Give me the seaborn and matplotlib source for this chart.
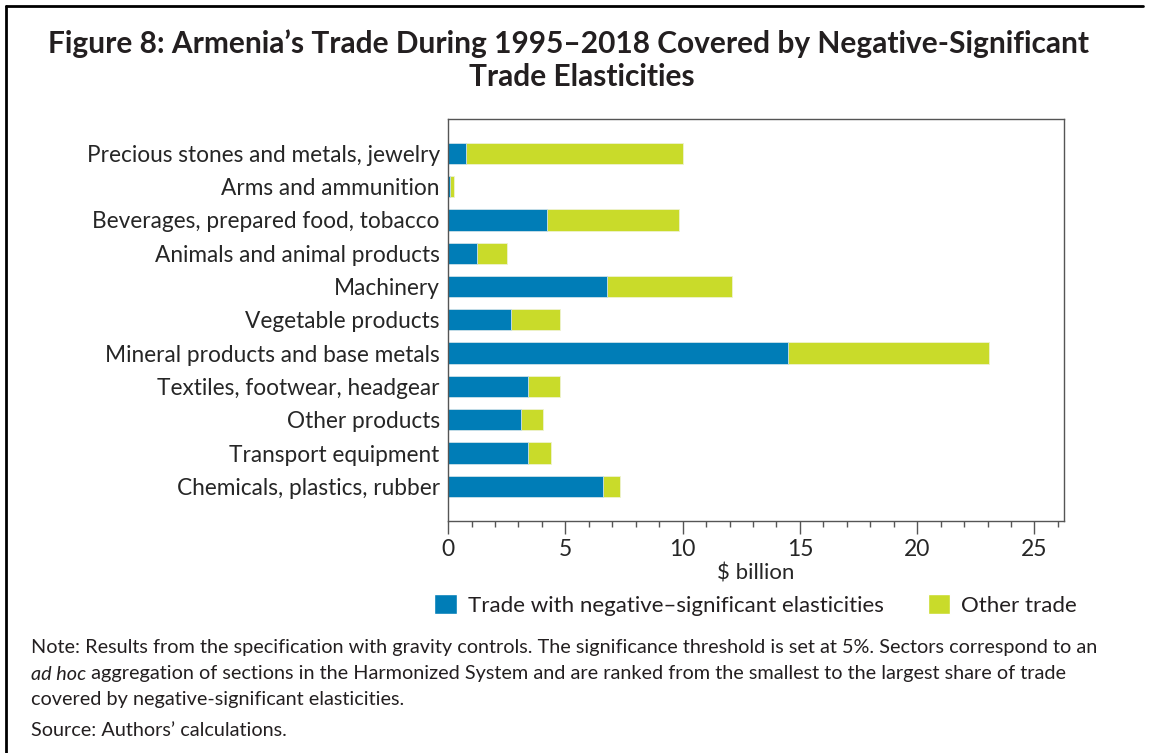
import numpy as np
import pandas as pd
import matplotlib
matplotlib.use("Agg")
import matplotlib.pyplot as plt
from matplotlib.patches import Patch
from matplotlib.lines import Line2D
from matplotlib.ticker import MultipleLocator
import seaborn as sns

# Data ($ billion)
sectors = [
    "Precious stones and metals, jewelry",
    "Arms and ammunition",
    "Beverages, prepared food, tobacco",
    "Animals and animal products",
    "Machinery",
    "Vegetable products",
    "Mineral products and base metals",
    "Textiles, footwear, headgear",
    "Other products",
    "Transport equipment",
    "Chemicals, plastics, rubber",
]
neg_sig = [0.77, 0.07, 4.21, 1.25, 6.79, 2.70, 14.48, 3.42, 3.11, 3.40, 6.60]
other = [9.25, 0.17, 5.65, 1.26, 5.30, 2.07, 8.60, 1.35, 0.92, 1.01, 0.75]

blue = "#007db7"
green = "#c9db2a"

df = pd.DataFrame({"sector": sectors, "neg": neg_sig, "other": other})
df["total"] = df["neg"] + df["other"]

sns.set_style("white")
plt.rcParams["font.family"] = ["Lato", "DejaVu Sans"]
plt.rcParams["text.color"] = "#231f20"

fig = plt.figure(figsize=(11.53, 7.53), dpi=100)
ax = fig.add_axes([0.3886, 0.3085, 0.5338, 0.5335])

# stacked bars: total in green, blue part drawn on top
sns.barplot(data=df, x="total", y="sector", order=sectors, color=green,
            saturation=1, width=0.64, edgecolor="#eef3d0", linewidth=0.6, ax=ax)
sns.barplot(data=df, x="neg", y="sector", order=sectors, color=blue,
            saturation=1, width=0.64, edgecolor="#cfe3ee", linewidth=0.6, ax=ax)

ax.set_xlim(0, 26.24)
ax.set_ylim(len(sectors) - 1 + 1.03, -1.03)
ax.xaxis.set_major_locator(MultipleLocator(5))
ax.xaxis.set_minor_locator(MultipleLocator(1))
ax.tick_params(axis="x", which="major", length=9, width=1, color="#555555",
               labelsize=16.5, pad=4, bottom=True, direction="out")
ax.tick_params(axis="x", which="minor", length=4.5, width=1, color="#555555",
               bottom=True, direction="out")
ax.tick_params(axis="y", length=0, labelsize=16.3, pad=6)
ax.set_xlabel("$ billion", fontsize=16, labelpad=3)
ax.set_ylabel("")
for s in ax.spines.values():
    s.set_visible(True)
    s.set_color("#555555")
    s.set_linewidth(1)

handles = [Patch(facecolor=blue, label="Trade with negative\u2013significant elasticities"),
           Patch(facecolor=green, label="Other trade")]
fig.legend(handles=handles, loc="center", bbox_to_anchor=(0.6555, 1 - 605 / 753),
           ncol=2, frameon=False, fontsize=16, handlelength=1.0, handleheight=1.0,
           handletextpad=0.5, columnspacing=2.0)

fig.text(0.493, 1 - 44 / 753, "Figure 8: Armenia\u2019s Trade During 1995\u20132018 Covered by Negative-Significant",
         ha="center", va="center", fontsize=21.5, fontweight="bold")
fig.text(0.505, 1 - 77 / 753, "Trade Elasticities",
         ha="center", va="center", fontsize=21.5, fontweight="bold")

note_x = 31 / 1153
fs = 14.3
fig.text(note_x, 1 - 648 / 753,
         "Note: Results from the specification with gravity controls. The significance threshold is set at 5%. Sectors correspond to an",
         ha="left", va="center", fontsize=fs)
t_it = fig.text(note_x, 1 - 674 / 753, "ad hoc", ha="left", va="center",
                fontsize=fs, style="italic")
ax.annotate(" aggregation of sections in the Harmonized System and are ranked from the smallest to the largest share of trade",
            xy=(1, 0.5), xycoords=t_it, ha="left", va="center", fontsize=fs,
            annotation_clip=False)
fig.text(note_x, 1 - 700 / 753, "covered by negative-significant elasticities.",
         ha="left", va="center", fontsize=fs)
fig.text(note_x, 1 - 730 / 753, "Source: Authors\u2019 calculations.",
         ha="left", va="center", fontsize=fs)

# frame lines on the left and top of the figure
fig.add_artist(Line2D([6 / 1153, 6 / 1153], [0, 1 - 6 / 753], transform=fig.transFigure,
                      color="black", linewidth=2))
fig.add_artist(Line2D([6 / 1153, 1143 / 1153], [1 - 6 / 753, 1 - 6 / 753],
                      transform=fig.transFigure, color="black", linewidth=2))

fig.savefig("out.png", dpi=100)
